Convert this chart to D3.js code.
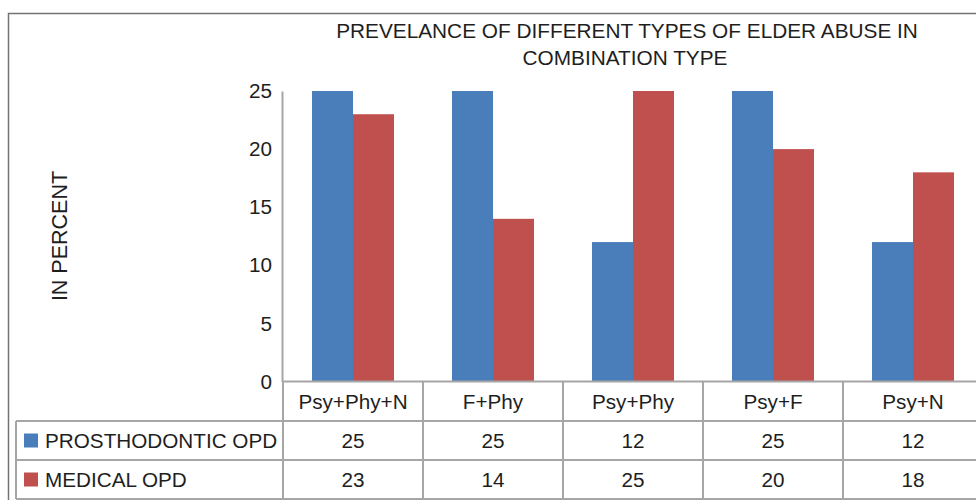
<!DOCTYPE html>
<html>
<head>
<meta charset="utf-8">
<script src="https://cdn.jsdelivr.net/npm/d3@7"></script>
<style>
  body { margin: 0; background: #fff; }
  text { font-family: "Liberation Sans", Arial, sans-serif; fill: #1e1e1e; }
</style>
</head>
<body>
<script>
// data
var categories = ["Psy+Phy+N", "F+Phy", "Psy+Phy", "Psy+F", "Psy+N"];
var seriesNames = ["PROSTHODONTIC OPD", "MEDICAL OPD"];
var prosthodontic = [25, 25, 12, 25, 12];
var medical = [23, 14, 25, 20, 18];
var yTicks = [0, 5, 10, 15, 20, 25];
var colors = ["#4a7ebb", "#c0504d"];

var seriesValues = [prosthodontic, medical];

var width = 976, height = 500;
var gridColor = "#a6a6a6";
var fontSize = 20.7;

var svg = d3.select("body")
            .append("svg")
            .attr("width", width)
            .attr("height", height);

// outer chart border (runs off right and bottom)
svg.append("rect")
   .attr("x", 8.5)
   .attr("y", 13.5)
   .attr("width", 1100)
   .attr("height", 600)
   .attr("fill", "none")
   .attr("stroke", "#737373")
   .attr("stroke-width", 1.5);

// scales
var x = d3.scaleBand()
          .domain(categories)
          .range([283, 983])
          .padding(0);

var xSub = d3.scaleBand()
             .domain(seriesNames)
             .range([0, x.bandwidth()])
             .paddingInner(0)
             .paddingOuter(0.707);

var y = d3.scaleLinear()
          .domain([0, 25])
          .range([381.5, 91]);

// title
var title = svg.append("text")
   .attr("text-anchor", "middle")
   .attr("font-size", 20.8);
title.append("tspan").attr("x", 627).attr("y", 38).text("PREVELANCE OF DIFFERENT TYPES OF ELDER ABUSE IN");
title.append("tspan").attr("x", 625).attr("y", 65).text("COMBINATION TYPE");

// y axis label
svg.append("text")
   .attr("transform", "translate(67,236) rotate(-90)")
   .attr("text-anchor", "middle")
   .attr("font-size", 21.5)
   .text("IN PERCENT");

// y axis
var yAxis = d3.axisLeft(y)
              .tickValues(yTicks)
              .tickSize(0)
              .tickPadding(10);

var yg = svg.append("g")
   .attr("transform", "translate(282,0)")
   .call(yAxis);
yg.select(".domain").attr("stroke", gridColor).attr("stroke-width", 2);
yg.selectAll(".tick text")
  .attr("font-size", fontSize)
  .attr("font-family", "Liberation Sans, Arial, sans-serif")
  .attr("fill", "#1e1e1e");

// bars
var groups = svg.selectAll(".group")
   .data(categories)
   .enter()
   .append("g")
   .attr("class", "group")
   .attr("transform", function(d) { return "translate(" + x(d) + ",0)"; });

groups.selectAll("rect")
   .data(function(d, i) {
     return seriesNames.map(function(s, j) { return {series: s, value: seriesValues[j][i], idx: j}; });
   })
   .enter()
   .append("rect")
   .attr("x", function(d) { return xSub(d.series); })
   .attr("y", function(d) { return y(d.value); })
   .attr("width", xSub.bandwidth())
   .attr("height", function(d) { return y(0) - y(d.value); })
   .attr("fill", function(d) { return colors[d.idx]; });

// data table
var rowTops = [381.5, 421, 460, 499];
var legendLeft = 16;

var table = svg.append("g").attr("class", "table");

// horizontal lines
table.append("line")
   .attr("x1", 282).attr("x2", width)
   .attr("y1", rowTops[0]).attr("y2", rowTops[0]);
[1, 2, 3].forEach(function(r) {
  table.append("line")
     .attr("x1", legendLeft).attr("x2", width)
     .attr("y1", rowTops[r]).attr("y2", rowTops[r]);
});

// vertical lines
table.append("line")
   .attr("x1", legendLeft).attr("x2", legendLeft)
   .attr("y1", rowTops[1]).attr("y2", rowTops[3]);
categories.forEach(function(c) {
  table.append("line")
     .attr("x1", x(c)).attr("x2", x(c))
     .attr("y1", rowTops[0]).attr("y2", rowTops[3]);
});
table.selectAll("line")
   .attr("stroke", gridColor)
   .attr("stroke-width", 2);

// header row
table.selectAll(".cat")
   .data(categories)
   .enter()
   .append("text")
   .attr("class", "cat")
   .attr("x", function(d) { return x(d) + x.bandwidth() / 2; })
   .attr("y", (rowTops[0] + rowTops[1]) / 2 + 7.5)
   .attr("text-anchor", "middle")
   .attr("font-size", fontSize)
   .text(function(d) { return d; });

// series rows
seriesNames.forEach(function(s, j) {
  var cy = (rowTops[j + 1] + rowTops[j + 2]) / 2;
  table.append("rect")
     .attr("x", 24).attr("y", cy - 7)
     .attr("width", 14).attr("height", 14)
     .attr("fill", colors[j]);
  table.append("text")
     .attr("x", 45).attr("y", cy + 7.5)
     .attr("font-size", fontSize)
     .text(s);
  table.selectAll(".val" + j)
     .data(seriesValues[j])
     .enter()
     .append("text")
     .attr("class", "val" + j)
     .attr("x", function(d, i) { return x(categories[i]) + x.bandwidth() / 2; })
     .attr("y", cy + 7.5)
     .attr("text-anchor", "middle")
     .attr("font-size", fontSize)
     .text(function(d) { return d; });
});
</script>
</body>
</html>
